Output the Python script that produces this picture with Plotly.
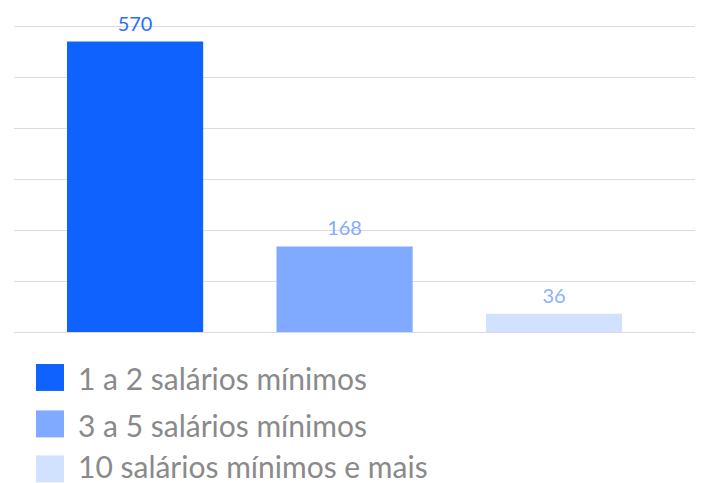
import plotly.graph_objects as go

categories = ["1 a 2 salários mínimos", "3 a 5 salários mínimos", "10 salários mínimos e mais"]
values = [570, 168, 36]
bar_colors = ["#0f62fe", "#80aaff", "#d0e2ff"]
label_colors = ["#2a6dff", "#86acff", "#8db1ff"]

# page offset (browser body margin)
OFF = 8
W, H = 703 - OFF, 483 - OFF
L, R, T, B = 6, 0, 3.2, 150.5
plot_w = W - L - R
plot_h = H - T - B

def px(x):  # reference page x -> paper x
    return (x - OFF - L) / plot_w

def py(y):  # reference page y -> paper y
    return (H - B - (y - OFF)) / plot_h

fig = go.Figure()
xs = list(range(len(values)))
fig.add_trace(go.Bar(
    x=xs, y=values,
    marker=dict(color=bar_colors, line=dict(width=0)),
    showlegend=False, width=0.65, hoverinfo="skip",
))
fig.add_trace(go.Scatter(
    x=xs, y=values, mode="markers+text",
    marker=dict(size=8, opacity=0),
    text=[str(v) for v in values], textposition="top center",
    textfont=dict(color=label_colors, size=20, family="Lato"),
    cliponaxis=False, showlegend=False,
))

fig.update_layout(
    width=W, height=H,
    margin=dict(l=L, r=R, t=T, b=B),
    plot_bgcolor="white", paper_bgcolor="white",
    font=dict(family="Lato", color="#8a8a8a"),
    xaxis=dict(range=[-0.578, 2.711], showticklabels=False, showgrid=False,
               zeroline=False, showline=False, ticks=""),
    yaxis=dict(range=[0, 630], dtick=100, showticklabels=False, showgrid=True,
               gridcolor="#dcdcdc", gridwidth=1.2, zeroline=True, zerolinecolor="#dcdcdc",
               zerolinewidth=1.2, ticks="", showline=False),
    showlegend=False,
)

# legend drawn as swatches and labels
row_y = [378, 424.5, 469.5]
text_dy = [1, 1, -2.5]
for i, (cat, col) in enumerate(zip(categories, bar_colors)):
    yc = row_y[i]
    fig.add_shape(type="rect", xref="paper", yref="paper",
                  x0=px(36), x1=px(64), y0=py(yc + 13.5), y1=py(yc - 13.5),
                  line=dict(width=0), fillcolor=col)
    fig.add_annotation(text=cat, xref="paper", yref="paper",
                       x=px(76), y=py(yc + text_dy[i]), xanchor="left", yanchor="middle",
                       showarrow=False, font=dict(size=30, color="#8a8a8a", family="Lato"))

fig.write_html("out.html")
